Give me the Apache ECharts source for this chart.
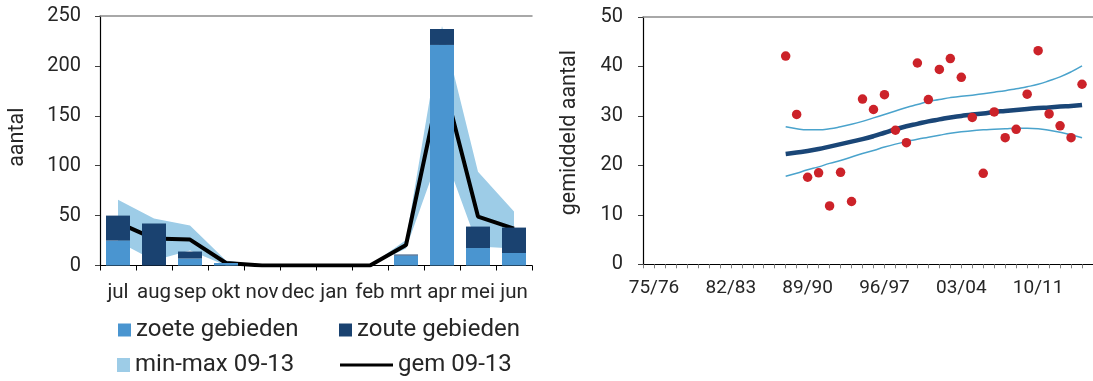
<!DOCTYPE html>
<html>
<head>
<meta charset="utf-8">
<script src="https://cdn.jsdelivr.net/npm/echarts@6/dist/echarts.min.js"></script>
<style>
  html, body { margin: 0; padding: 0; background: #fff; }
  #chart { width: 1093px; height: 381px; }
</style>
</head>
<body>
<div id="chart"></div>
<script>
// Left panel: monthly counts per season month
const months = ['jul', 'aug', 'sep', 'okt', 'nov', 'dec', 'jan', 'feb', 'mrt', 'apr', 'mei', 'jun'];
const zoete = [25, 0, 7, 2.5, 0, 0, 0, 0, 10, 221, 17.5, 12.5];
const zoute = [25, 42, 7, 0, 0, 0, 0, 0, 1, 16, 21.5, 25.5];
const gem0913 = [43, 27, 26, 2.5, 0, 0, 0, 0, 20.5, 190, 49, 37];
const min0913 = [24, 5, 15, 0, 0, 0, 0, 0, 17, 118, 19, 17];
const max0913 = [66, 47, 40, 5, 0, 0, 0, 0, 25.5, 240, 94, 54];

// Right panel: season means with trend and its band
const seasons = ['74/75', '75/76', '76/77', '77/78', '78/79', '79/80', '80/81', '81/82', '82/83', '83/84',
  '84/85', '85/86', '86/87', '87/88', '88/89', '89/90', '90/91', '91/92', '92/93', '93/94',
  '94/95', '95/96', '96/97', '97/98', '98/99', '99/00', '00/01', '01/02', '02/03', '03/04',
  '04/05', '05/06', '06/07', '07/08', '08/09', '09/10', '10/11', '11/12', '12/13', '13/14',
  '14/15', '15/16'];
const seasonLabels = ['75/76', '82/83', '89/90', '96/97', '03/04', '10/11'];
const countSeasons = seasons.slice(13, 41);
const gemiddeld = [42.1, 30.3, 17.6, 18.5, 11.8, 18.6, 12.7, 33.4, 31.3, 34.3, 27.1, 24.6, 40.7, 33.3,
  39.4, 41.6, 37.8, 29.7, 18.4, 30.8, 25.6, 27.3, 34.4, 43.2, 30.4, 28.0, 25.6, 36.4];
const trend = [22.3, 22.6, 22.9, 23.3, 23.8, 24.3, 24.8, 25.3, 25.9, 26.6, 27.3, 27.9, 28.4, 28.9,
  29.3, 29.7, 30.0, 30.3, 30.5, 30.8, 31.0, 31.2, 31.4, 31.6, 31.7, 31.9, 32.0, 32.2];
const upper = [27.8, 27.4, 27.2, 27.2, 27.4, 27.8, 28.3, 28.9, 29.6, 30.3, 31.0, 31.7, 32.3, 32.9,
  33.3, 33.7, 34.0, 34.2, 34.5, 34.8, 35.1, 35.5, 35.9, 36.4, 37.1, 37.9, 38.9, 40.1];
const lower = [17.8, 18.4, 19.1, 19.7, 20.4, 21.0, 21.7, 22.4, 23.0, 23.7, 24.3, 24.8, 25.3, 25.7,
  26.1, 26.5, 26.8, 27.0, 27.2, 27.3, 27.4, 27.5, 27.5, 27.4, 27.1, 26.7, 26.2, 25.6];

const FONT = 'Roboto';
const TXT = '#262626';
const pairs = arr => countSeasons.map((s, i) => [s, arr[i]]);

const legendBase = {
  padding: 0, itemGap: 0, selectedMode: false, icon: 'rect',
  textStyle: { fontFamily: FONT, fontSize: 24, color: TXT, lineHeight: 24 }
};

const topLine = gridIndex => ({
  type: 'category', gridIndex, position: 'top',
  data: gridIndex === 0 ? months : seasons,
  boundaryGap: gridIndex === 0,
  axisLine: { show: true, onZero: false, lineStyle: { color: '#8c8c8c', width: 1.5 } },
  axisTick: { show: false }, axisLabel: { show: false }, splitLine: { show: false }
});

const option = {
  animation: false,
  backgroundColor: '#fff',
  textStyle: { fontFamily: FONT },
  grid: [
    { left: 100, top: 16, width: 432, height: 249.5 },
    { left: 643, top: 17, width: 456.3, height: 247.3 }
  ],
  legend: [
    Object.assign({}, legendBase, { data: ['zoete gebieden'], left: 118, top: 318, itemWidth: 13, itemHeight: 13 }),
    Object.assign({}, legendBase, { data: ['zoute gebieden'], left: 339, top: 318, itemWidth: 13, itemHeight: 13 }),
    Object.assign({}, legendBase, { data: ['min-max 09-13'], left: 117, top: 353, itemWidth: 13, itemHeight: 14 }),
    Object.assign({}, legendBase, { data: ['gem 09-13'], left: 340, top: 353, itemWidth: 53, itemHeight: 3 })
  ],
  xAxis: [
    {
      type: 'category', gridIndex: 0, data: months, boundaryGap: true,
      axisLine: { onZero: false, lineStyle: { color: '#000', width: 1.2 } },
      axisTick: { show: true, interval: 0, length: 5, lineStyle: { color: '#000' } },
      axisLabel: { interval: 0, margin: 17, fontSize: 20.5, color: TXT, fontFamily: FONT }
    },
    topLine(0),
    {
      type: 'category', gridIndex: 1, data: seasons, boundaryGap: false,
      axisLine: { onZero: false, lineStyle: { color: '#000', width: 1.2 } },
      axisTick: { show: true, interval: 0, length: 4, lineStyle: { color: '#808080' } },
      axisLabel: {
        interval: (i, v) => seasonLabels.includes(v),
        margin: 14, fontSize: 19, color: TXT, fontFamily: FONT
      }
    },
    topLine(1)
  ],
  yAxis: [
    {
      type: 'value', gridIndex: 0, min: 0, max: 250, interval: 50,
      name: 'aantal', nameLocation: 'middle', nameRotate: 90, nameGap: 71,
      nameTextStyle: { fontSize: 21.5, color: TXT, fontFamily: FONT, padding: [0, 0, 0, 7] },
      axisLine: { show: true, lineStyle: { color: '#000', width: 1.2 } },
      axisTick: { show: true, length: 5, lineStyle: { color: '#404040' } },
      axisLabel: { margin: 19, fontSize: 20, color: TXT, fontFamily: FONT },
      splitLine: { show: false }
    },
    {
      type: 'value', gridIndex: 1, min: 0, max: 50, interval: 10,
      name: 'gemiddeld aantal', nameLocation: 'middle', nameRotate: 90, nameGap: 62,
      nameTextStyle: { fontSize: 21.5, color: TXT, fontFamily: FONT, padding: [0, 0, 0, 16] },
      axisLine: { show: true, lineStyle: { color: '#000', width: 1.2 } },
      axisTick: { show: true, length: 5, lineStyle: { color: '#404040' } },
      axisLabel: { margin: 20, fontSize: 20, color: TXT, fontFamily: FONT },
      splitLine: { show: false }
    }
  ],
  series: [
    // min-max band drawn as a stacked area on top of an invisible minimum line
    {
      name: 'min', type: 'line', xAxisIndex: 0, yAxisIndex: 0, stack: 'mm', z: 1,
      data: min0913, symbol: 'none', silent: true,
      lineStyle: { opacity: 0 }
    },
    {
      name: 'min-max 09-13', type: 'line', xAxisIndex: 0, yAxisIndex: 0, stack: 'mm', z: 1,
      data: max0913.map((v, i) => v - min0913[i]), symbol: 'none', silent: true,
      color: '#9dcce7', itemStyle: { color: '#9dcce7' },
      lineStyle: { opacity: 0, width: 0 },
      areaStyle: { color: '#9dcce7', opacity: 1 }
    },
    {
      name: 'gem 09-13', type: 'line', xAxisIndex: 0, yAxisIndex: 0, z: 2,
      data: gem0913, symbol: 'none', color: '#000',
      itemStyle: { color: '#000' },
      lineStyle: { color: '#000', width: 4 }
    },
    {
      name: 'zoete gebieden', type: 'bar', xAxisIndex: 0, yAxisIndex: 0, stack: 'b', z: 3,
      data: zoete, barWidth: 24, itemStyle: { color: '#4a95d0' }
    },
    {
      name: 'zoute gebieden', type: 'bar', xAxisIndex: 0, yAxisIndex: 0, stack: 'b', z: 3,
      data: zoute, barWidth: 24, itemStyle: { color: '#1a4270' }
    },
    // right panel
    {
      name: 'bovengrens', type: 'line', xAxisIndex: 2, yAxisIndex: 1, z: 2,
      data: pairs(upper), smooth: true, symbol: 'none', silent: true,
      lineStyle: { color: '#4aa3cc', width: 1.5 }
    },
    {
      name: 'ondergrens', type: 'line', xAxisIndex: 2, yAxisIndex: 1, z: 2,
      data: pairs(lower), smooth: true, symbol: 'none', silent: true,
      lineStyle: { color: '#4aa3cc', width: 1.5 }
    },
    {
      name: 'trend', type: 'line', xAxisIndex: 2, yAxisIndex: 1, z: 3,
      data: pairs(trend), smooth: true, symbol: 'none', silent: true,
      lineStyle: { color: '#1a4677', width: 4.5 }
    },
    {
      name: 'gemiddeld aantal', type: 'scatter', xAxisIndex: 2, yAxisIndex: 1, z: 4,
      data: pairs(gemiddeld), symbol: 'circle', symbolSize: 9.5,
      itemStyle: { color: '#cc2229', opacity: 1 }
    }
  ]
};

const chart = echarts.init(document.getElementById('chart'), null, { renderer: 'canvas' });
chart.setOption(option);
</script>
</body>
</html>
